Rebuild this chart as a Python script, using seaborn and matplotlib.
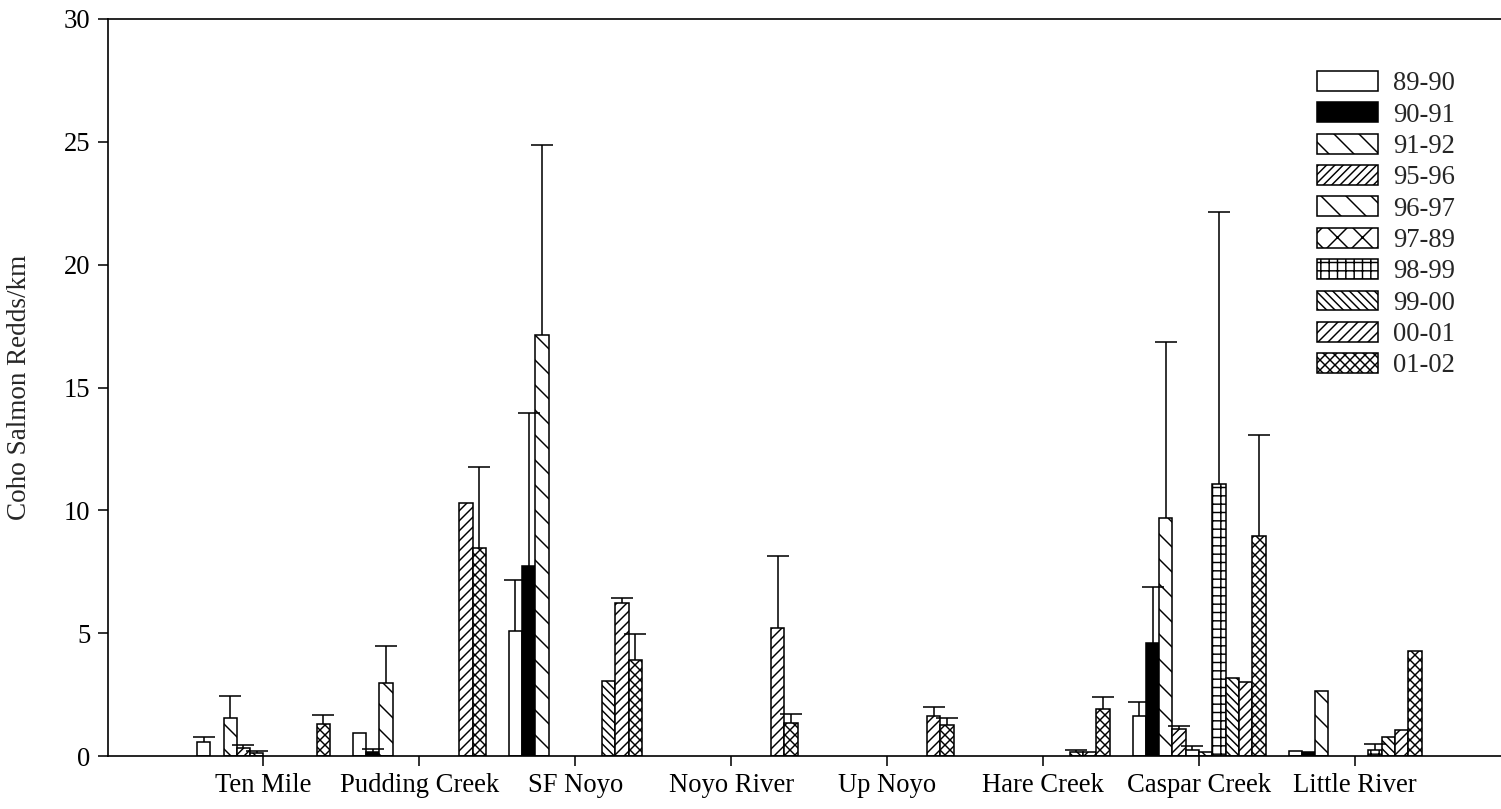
import numpy as np
import pandas as pd
import matplotlib
matplotlib.use("Agg")
import matplotlib.pyplot as plt
from matplotlib.patches import Patch
import seaborn as sns

nan = np.nan

streams = ["Ten Mile", "Pudding Creek", "SF Noyo", "Noyo River",
           "Up Noyo", "Hare Creek", "Caspar Creek", "Little River"]
seasons = ["89-90", "90-91", "91-92", "95-96", "96-97",
           "97-89", "98-99", "99-00", "00-01", "01-02"]

# mean coho redds per km, one list per season in stream order (nan = not surveyed)
redds_8990 = [0.58, 0.95, 5.07, nan, nan, nan, 1.63, 0.20]
redds_9091 = [nan, 0.15, 7.73, nan, nan, nan, 4.59, 0.16]
redds_9192 = [1.53, 2.96, 17.12, nan, nan, nan, 9.70, 2.65]
redds_9596 = [0.31, nan, nan, nan, nan, nan, 1.09, nan]
redds_9697 = [0.14, nan, nan, nan, nan, nan, 0.23, nan]
redds_9789 = [nan, nan, nan, nan, nan, nan, 0.17, nan]
redds_9899 = [nan, nan, nan, nan, nan, nan, 11.06, 0.25]
redds_9900 = [nan, nan, 3.04, nan, nan, 0.18, 3.19, 0.79]
redds_0001 = [nan, 10.30, 6.23, 5.20, 1.63, 0.18, 3.01, 1.05]
redds_0102 = [1.29, 8.45, 3.92, 1.36, 1.25, 1.90, 8.95, 4.26]

# standard errors (upper whisker only)
se_8990 = [0.21, nan, 2.09, nan, nan, nan, 0.57, nan]
se_9091 = [nan, 0.12, 6.25, nan, nan, nan, 2.30, nan]
se_9192 = [0.91, 1.52, 7.74, nan, nan, nan, 7.15, nan]
se_9596 = [0.12, nan, nan, nan, nan, nan, 0.14, nan]
se_9697 = [0.06, nan, nan, nan, nan, nan, 0.16, nan]
se_9789 = [nan, nan, nan, nan, nan, nan, nan, nan]
se_9899 = [nan, nan, nan, nan, nan, nan, 11.08, 0.25]
se_9900 = [nan, nan, nan, nan, nan, 0.05, nan, nan]
se_0001 = [nan, nan, 0.19, 2.95, 0.37, nan, nan, nan]
se_0102 = [0.38, 3.30, 1.05, 0.35, 0.31, 0.52, 4.11, nan]

redds = [redds_8990, redds_9091, redds_9192, redds_9596, redds_9697,
         redds_9789, redds_9899, redds_9900, redds_0001, redds_0102]
ses = [se_8990, se_9091, se_9192, se_9596, se_9697,
       se_9789, se_9899, se_9900, se_0001, se_0102]

fills = ["white", "black", "white", "white", "white",
         "white", "white", "white", "white", "white"]
hatches = ["", "", "\\\\", "//////", "\\\\", "xx", "+++",
           "\\\\\\\\\\\\", "/////", "xxxxx"]

rows = []
for season, vals, errs in zip(seasons, redds, ses):
    for stream, v, e in zip(streams, vals, errs):
        if not np.isnan(v):
            rows.append({"stream": stream, "season": season, "redds": v, "se": e})
df = pd.DataFrame(rows)

DPI = 150
W, H = 1501, 809
sns.set_theme(style="white")
plt.rcParams["font.family"] = ["Liberation Serif", "DejaVu Serif"]
plt.rcParams["hatch.linewidth"] = 0.7
plt.rcParams["hatch.color"] = "black"

fig = plt.figure(figsize=(W / DPI, H / DPI), dpi=DPI)
ax = fig.add_axes([107.5 / W, 1 - 756 / H, (W - 107.5) / W, (756 - 19) / H])

group_width = 0.853
n = len(seasons)
bw = group_width / n

sns.barplot(data=df, x="stream", y="redds", hue="season",
            order=streams, hue_order=seasons,
            palette=dict(zip(seasons, fills)), saturation=1,
            width=group_width, edgecolor="black", linewidth=0.75,
            errorbar=None, legend=False, ax=ax)

# style each bar by its season slot and collect whisker positions
ex, ey, ee = [], [], []
for p in ax.patches:
    xc = p.get_x() + p.get_width() / 2
    ci = int(round(xc))
    si = int(round((xc - ci + group_width / 2 - bw / 2) / bw))
    if ci < 0 or ci >= len(streams) or si < 0 or si >= n:
        continue
    p.set_hatch(hatches[si])
    p.set_edgecolor("black")
    v = redds[si][ci]
    e = ses[si][ci]
    if not np.isnan(e):
        ex.append(xc)
        ey.append(v)
        ee.append(e)

ex = np.array(ex)
ey = np.array(ey)
ee = np.array(ee)
# upper-only whiskers: stem from the bar top plus a cap
ax.vlines(ex, ey, ey + ee, colors="black", linewidth=0.75, zorder=1)
ax.plot(ex, ey + ee, linestyle="none", marker="_", markersize=10.6,
        markeredgewidth=0.75, color="black", zorder=3)

ax.set_ylim(0, 30)
ax.set_xlim(-1.0, 7.936)
ax.set_yticks(range(0, 31, 5))
ax.set_xlabel("")
ax.set_ylabel("Coho Salmon Redds/km", fontsize=13, labelpad=15)

for side in ["left", "bottom", "top"]:
    ax.spines[side].set_visible(True)
    ax.spines[side].set_color("black")
    ax.spines[side].set_linewidth(0.8)
ax.spines["right"].set_visible(False)
ax.tick_params(axis="both", direction="out", length=4.8, width=0.75,
               colors="black", labelsize=12.8, pad=3.5,
               bottom=True, left=True, top=False, right=False)
ax.grid(False)

handles = [Patch(facecolor=f, edgecolor="black", hatch=h, linewidth=0.75,
                 label=s) for s, f, h in zip(seasons, fills, hatches)]
ax.legend(handles=handles, loc="upper left",
          bbox_to_anchor=(1317 / W, 1 - 71 / H), bbox_transform=fig.transFigure,
          frameon=False, fontsize=12.8, handlelength=2.29, handleheight=0.77,
          handletextpad=0.56, labelspacing=0.23, borderpad=0, borderaxespad=0)

fig.savefig("out.png", dpi=DPI)
